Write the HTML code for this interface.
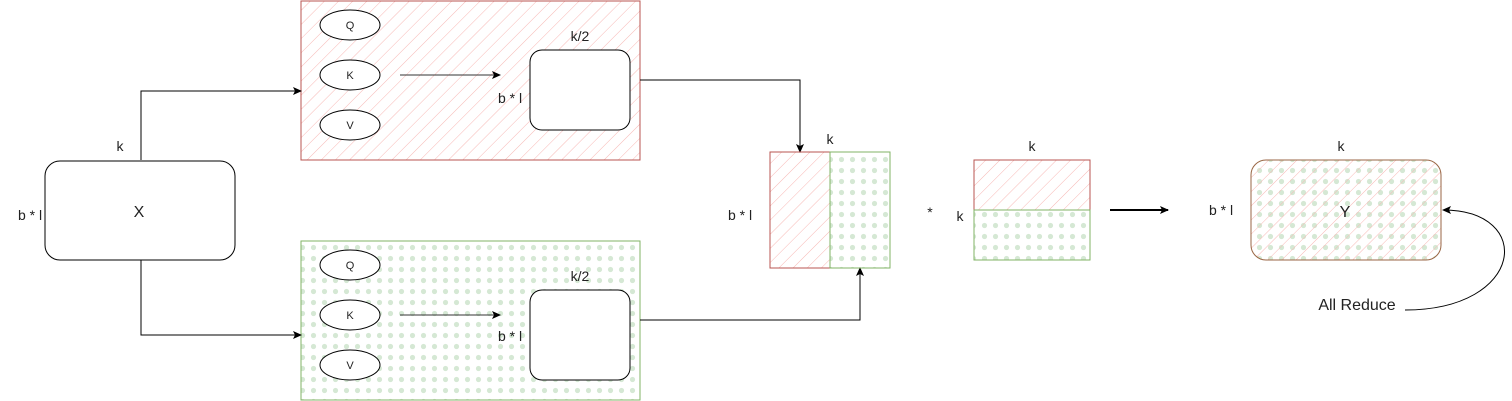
<!DOCTYPE html>
<html><head><meta charset="utf-8"><style>html,body{margin:0;padding:0;background:#fff}svg{display:block}text{font-family:"Liberation Sans",sans-serif;fill:#222}</style></head>
<body>
<svg width="1512" height="401" viewBox="0 0 1512 401" xmlns="http://www.w3.org/2000/svg">
<defs>
<pattern id="hatch" width="10" height="10" patternUnits="userSpaceOnUse" patternTransform="rotate(45)">
<line x1="0" y1="0" x2="0" y2="10" stroke="#f8b8b5" stroke-width="1"/>
</pattern>
<pattern id="dots" width="11" height="11" patternUnits="userSpaceOnUse">
<circle cx="5.5" cy="5.5" r="2.6" fill="#d5e8d4"/>
</pattern>
<marker id="ar" markerWidth="10" markerHeight="10" refX="8" refY="5" orient="auto" markerUnits="userSpaceOnUse">
<path d="M0,1 L9,5 L0,9 L2,5 Z" fill="#000"/>
</marker>
</defs>
<g font-size="14">
<rect x="301" y="1" width="339" height="159" fill="url(#hatch)" stroke="#b85450"/>
<g fill="#fff" stroke="#000">
<ellipse cx="350" cy="25" rx="30" ry="15"/>
<ellipse cx="350" cy="75" rx="30" ry="15"/>
<ellipse cx="350" cy="125" rx="30" ry="15"/>
<rect x="530" y="50" width="100" height="80" rx="12"/>
</g>
<text x="350" y="29" font-size="11" text-anchor="middle">Q</text>
<text x="350" y="79" font-size="11" text-anchor="middle">K</text>
<text x="350" y="129" font-size="11" text-anchor="middle">V</text>
<line x1="400" y1="75" x2="500" y2="75" stroke="#333" marker-end="url(#ar)"/>
<text x="580" y="41" text-anchor="middle">k/2</text>
<text x="510" y="103" text-anchor="middle">b * l</text>
<rect x="301" y="241" width="339" height="159" fill="url(#dots)" stroke="#82b366"/>
<g fill="#fff" stroke="#000">
<ellipse cx="350" cy="265" rx="30" ry="15"/>
<ellipse cx="350" cy="315" rx="30" ry="15"/>
<ellipse cx="350" cy="365" rx="30" ry="15"/>
<rect x="530" y="290" width="100" height="90" rx="12"/>
</g>
<text x="350" y="269" font-size="11" text-anchor="middle">Q</text>
<text x="350" y="319" font-size="11" text-anchor="middle">K</text>
<text x="350" y="369" font-size="11" text-anchor="middle">V</text>
<line x1="400" y1="315" x2="500" y2="315" stroke="#333" marker-end="url(#ar)"/>
<text x="580" y="281" text-anchor="middle">k/2</text>
<text x="510" y="341" text-anchor="middle">b * l</text>
<rect x="45" y="161" width="190" height="99" rx="15" fill="#fff" stroke="#000"/>
<text x="139" y="217" font-size="16" text-anchor="middle">X</text>
<text x="120" y="151" text-anchor="middle">k</text>
<text x="30" y="220" text-anchor="middle">b * l</text>
<g fill="none" stroke="#000">
<polyline points="141,160 141,91 301,91" marker-end="url(#ar)"/>
<polyline points="141,260 141,335 301,335" marker-end="url(#ar)"/>
<polyline points="640,80 800,80 800,152" marker-end="url(#ar)"/>
<polyline points="640,320 860,320 860,268" marker-end="url(#ar)"/>
</g>
<rect x="770" y="152" width="60" height="116" fill="url(#hatch)" stroke="#b85450"/>
<rect x="830" y="152" width="60" height="116" fill="url(#dots)" stroke="#82b366"/>
<text x="830" y="144" text-anchor="middle">k</text>
<text x="740" y="220" text-anchor="middle">b * l</text>
<text x="930" y="217" text-anchor="middle">*</text>
<rect x="974" y="160" width="116" height="50" fill="url(#hatch)" stroke="#b85450"/>
<rect x="974" y="210" width="116" height="50" fill="url(#dots)" stroke="#82b366"/>
<text x="1032" y="151" text-anchor="middle">k</text>
<text x="960" y="221" text-anchor="middle">k</text>
<line x1="1110" y1="210" x2="1168" y2="210" stroke="#000" stroke-width="2" marker-end="url(#ar)"/>
<rect x="1251" y="160" width="190" height="100" rx="15" fill="url(#dots)"/>
<rect x="1251" y="160" width="190" height="100" rx="15" fill="url(#hatch)" stroke="#996644"/>
<text x="1345" y="217" font-size="16" text-anchor="middle">Y</text>
<text x="1341" y="151" text-anchor="middle">k</text>
<text x="1221" y="215" text-anchor="middle">b * l</text>
<text x="1357" y="310" font-size="16" text-anchor="middle">All Reduce</text>
<path d="M1405,310 C1525,310 1535,210 1443,210" fill="none" stroke="#000" marker-end="url(#ar)"/>
</g>
</svg>
</body></html>
